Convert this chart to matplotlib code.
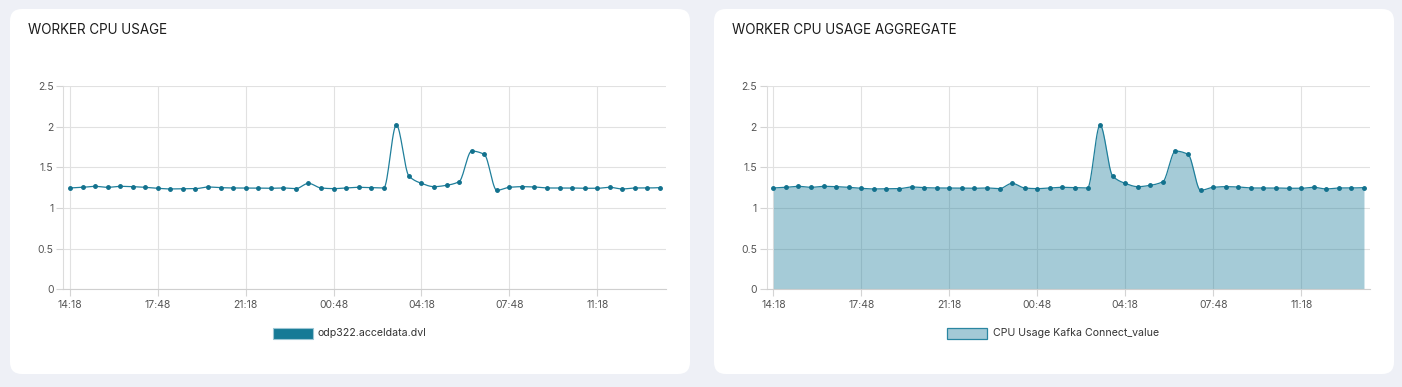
import numpy as np
import pandas as pd
import matplotlib
matplotlib.use('Agg')
import matplotlib.pyplot as plt
from matplotlib.patches import FancyBboxPatch, Rectangle

plt.rcParams['font.family'] = ['Inter', 'DejaVu Sans']

# 30 minute samples, 14:18 -> 13:48 next day
times = pd.date_range('2024-01-01 14:18', periods=48, freq='30min').strftime('%H:%M').tolist()
cpu = [1.246, 1.254, 1.266, 1.254, 1.266, 1.262, 1.254, 1.242, 1.234, 1.238,
       1.238, 1.258, 1.250, 1.246, 1.246, 1.246, 1.242, 1.246, 1.238, 1.303,
       1.246, 1.238, 1.246, 1.254, 1.250, 1.246, 2.020, 1.393, 1.303, 1.262,
       1.279, 1.324, 1.700, 1.660, 1.217, 1.254, 1.262, 1.258, 1.246, 1.246,
       1.246, 1.242, 1.242, 1.254, 1.234, 1.246, 1.246, 1.250]
tick_labels = ['14:18', '17:48', '21:18', '00:48', '04:18', '07:48', '11:18']
y_ticks = [0, 0.5, 1, 1.5, 2, 2.5]
y_labels = ['0', '0.5', '1', '1.5', '2', '2.5']

LINE = '#1f7f9b'
DOT = '#12718d'
W, H = 1402, 387


def monotone(x, y, n=16):
    # monotone cubic (Fritsch-Carlson) just for drawing the curve
    x = np.asarray(x, float)
    y = np.asarray(y, float)
    h = np.diff(x)
    d = np.diff(y) / h
    m = np.zeros_like(y)
    m[0], m[-1] = d[0], d[-1]
    for i in range(1, len(y) - 1):
        if d[i - 1] * d[i] <= 0:
            m[i] = 0
        else:
            m[i] = 3 * (h[i - 1] + h[i]) / ((2 * h[i] + h[i - 1]) / d[i - 1] + (h[i] + 2 * h[i - 1]) / d[i])
    xs, ys = [], []
    for i in range(len(x) - 1):
        t = np.linspace(0, 1, n, endpoint=False)
        h00 = 2 * t**3 - 3 * t**2 + 1
        h10 = t**3 - 2 * t**2 + t
        h01 = -2 * t**3 + 3 * t**2
        h11 = t**3 - t**2
        xs.append(x[i] + t * h[i])
        ys.append(h00 * y[i] + h10 * h[i] * m[i] + h01 * y[i + 1] + h11 * h[i] * m[i + 1])
    xs.append([x[-1]])
    ys.append([y[-1]])
    return np.concatenate(xs), np.concatenate(ys)


fig = plt.figure(figsize=(W / 100, H / 100), dpi=100)
fig.patch.set_facecolor('#eef0f6')

bg = fig.add_axes([0, 0, 1, 1])
bg.set_xlim(0, W)
bg.set_ylim(H, 0)
bg.axis('off')
for x0, x1 in [(10, 690), (714, 1394)]:
    bg.add_patch(FancyBboxPatch((x0, 9), x1 - x0, 365, boxstyle='round,pad=0,rounding_size=12',
                                facecolor='white', edgecolor='none'))
bg.text(28, 30, 'WORKER CPU USAGE', fontsize=9.7, color='#1c1c1c', va='center', ha='left')
bg.text(732, 30, 'WORKER CPU USAGE AGGREGATE', fontsize=9.7, color='#1c1c1c', va='center', ha='left')


def make_ax(left, right):
    top, bottom = 86, 289.3
    ax = fig.add_axes([left / W, 1 - bottom / H, (right - left) / W, (bottom - top) / H])
    ax.set_facecolor('none')
    x = np.arange(len(cpu))
    ax.set_xlim(-0.53, len(cpu) - 1 + 0.48)
    ax.set_ylim(0, 2.5)
    ax.set_yticks(y_ticks)
    ax.set_yticklabels(y_labels)
    ax.set_xticks(x[::7])
    ax.set_xticklabels(tick_labels)
    ax.grid(True, color='#e1e1e1', linewidth=0.8)
    ax.set_axisbelow(True)
    for s in ['top', 'right']:
        ax.spines[s].set_visible(False)
    ax.spines['left'].set_color('#dcdcdc')
    ax.spines['left'].set_linewidth(0.8)
    ax.spines['bottom'].set_color('#cfcfcf')
    ax.spines['bottom'].set_linewidth(0.8)
    ax.tick_params(axis='both', colors='#d4d4d4', labelcolor='#555555', labelsize=7.5,
                   length=5, width=0.8, pad=3)
    ax.tick_params(axis='y', pad=2)
    return ax, x


# left chart: line
ax1, x = make_ax(63.3, 666)
sx, sy = monotone(x, cpu)
ax1.plot(sx, sy, color=LINE, linewidth=0.9, zorder=3)
ax1.plot(x, cpu, 'o', color=DOT, markersize=2.5, zorder=4)

# right chart: area
ax2, x = make_ax(766.7, 1370)
sx, sy = monotone(x, cpu)
ax2.fill_between(sx, 0, sy, color=LINE, alpha=0.4, linewidth=0, zorder=2)
ax2.plot(sx, sy, color=LINE, linewidth=0.9, zorder=3)
ax2.plot(x, cpu, 'o', color=DOT, markersize=2.5, zorder=4)

# legends
bg.add_patch(Rectangle((272.5, 327.5), 40, 11, facecolor='#167a96', edgecolor='#9cc6d4', linewidth=0.8))
bg.text(318, 333, 'odp322.acceldata.dvl', fontsize=7.6, color='#333333', va='center', ha='left')
bg.add_patch(Rectangle((947, 327.5), 40, 11, facecolor='#a3c9d6', edgecolor='#2a86a1', linewidth=0.9))
bg.text(993, 333, 'CPU Usage Kafka Connect_value', fontsize=7.6, color='#333333', va='center', ha='left')

fig.savefig('out.png', dpi=100, facecolor=fig.get_facecolor())
